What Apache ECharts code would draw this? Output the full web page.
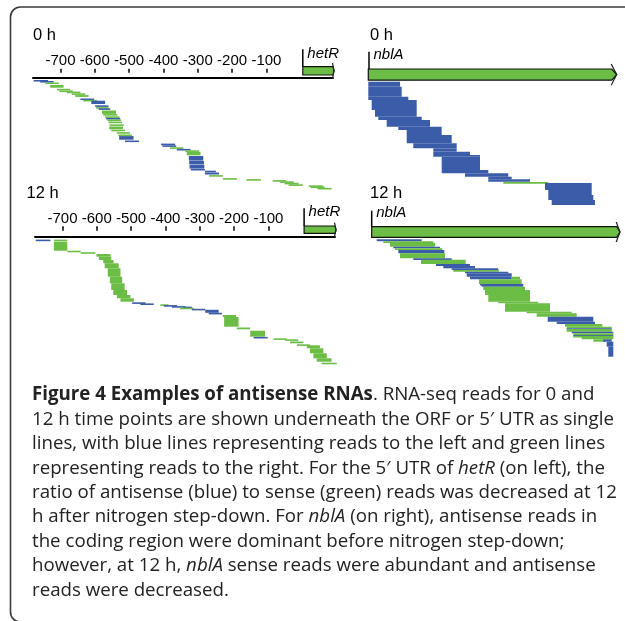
<!DOCTYPE html>
<html><head><meta charset="utf-8">
<script src="https://cdn.jsdelivr.net/npm/echarts@6/dist/echarts.min.js"></script>
<style>html,body{margin:0;padding:0;background:#fff}#c{width:625px;height:621px}</style>
</head><body><div id="c"></div>
<script>
// ---------- data ----------
const hetRTicks = [-700, -600, -500, -400, -300, -200, -100];
const timeLabels = ['0 h', '12 h'];
const geneNames = ['hetR', 'nblA'];
// reads: [start, end, row offset below gene line, row span, strand] (strand 1 = to the right / green, -1 = to the left / blue)
const hetR0h = [
  [-778,-736,2.7,1,-1],[-759,-720,3.7,1,-1],[-744,-705,5.2,1.5,1],[-730,-691,7.7,2.7,1],
  [-710,-672,11.5,1,1],[-703,-664,13.2,1,1],[-681,-642,14.3,1.3,1],[-667,-628,16,1,1],
  [-657,-618,17.8,1.8,1],[-642,-602,21.2,1,-1],[-633,-594,22.6,1,1],[-610,-570,23.4,3.3,-1],
  [-599,-560,28,1.5,-1],[-596,-560,29.8,1,1],[-589,-555,31,1,-1],[-579,-538,33.2,3.4,1],
  [-575,-534,36.8,1,1],[-570,-528,39,1,1],[-567,-526,40.6,1,-1],[-563,-524,42.2,1,1],
  [-560,-521,44.3,1.5,1],[-557,-516,47,1,1],[-558,-518,49.2,2.8,1],[-552,-512,52.4,1,1],
  [-536,-497,54.8,1.3,1],[-531,-492,57.2,1,1],[-529,-487,58.8,3.6,-1],[-512,-471,63.2,1,-1],
  [-407,-366,66.3,1.3,-1],[-403,-363,68,1,-1],[-381,-342,70,1,1],[-361,-321,71.6,1,-1],
  [-337,-296,73,1,1],[-332,-292,74.5,3.5,1],[-326,-284,78.7,4.6,-1],[-325,-282,83.6,3.3,-1],
  [-324,-281,87.3,4,-1],[-320,-279,91.6,1.5,-1],[-279,-247,93.4,1.5,-1],[-279,-238,95.2,2,-1],
  [-267,-227,97.8,1.4,1],[-227,-186,100.8,1,1],[-158,-116,101.8,1,1],[-82,-42,102.8,1,1],
  [-61,-20,104,1,1],[-47,-6,105.5,1,1],[-35,6,107,1,1],[23,64,108,1,1],
  [29,70,109.2,1,1],[49,90,110.6,1,1]
];
const hetR12h = [
  [-778,-735,3.3,1.2,-1],[-725,-686,3.3,0.8,1],[-725,-686,5.4,9,1],[-686,-647,14.4,1,1],
  [-647,-604,15.9,1.2,1],[-601,-560,17.7,2.7,1],[-594,-558,20.4,3.3,1],[-581,-551,23.7,3.3,1],
  [-577,-536,27,5,1],[-568,-531,32,8.4,1],[-562,-526,40.4,6.6,1],[-558,-519,47,6.7,1],
  [-552,-512,53.7,5,1],[-541,-502,58.7,3.3,1],[-531,-492,62,3.4,1],[-497,-458,66,1.2,-1],
  [-473,-434,67.1,1,-1],[-415,-391,68,0.8,1],[-405,-366,68.8,1,-1],[-381,-342,69.8,1,-1],
  [-347,-323,70.3,1,-1],[-357,-318,71.4,1,1],[-323,-284,72.5,1,-1],[-284,-245,73.5,3,-1],
  [-274,-235,76.5,1.2,-1],[-233,-194,78.7,2,1],[-229,-187,80.7,9.7,1],[-192,-153,91.2,1.8,1],
  [-153,-110,94.4,6,1],[-143,-102,100.6,0.9,-1],[-85,-47,102,1,1],[-51,-13,103,1.4,1],
  [-37,2,105.2,1.8,1],[-17,21,108,1,1],[12,50,109,3,1],[21,60,112,5,1],
  [31,70,117,5,1],[41,84,122,3.4,1],[55,99,126.4,1.6,1]
];
const nblA0h = [
  [0,31.7,1.2,5,-1],[0,33.4,6.2,10,-1],[0,40,16.2,3.3,-1],[3.4,48.4,19.5,10,-1],
  [6.7,48.4,29.5,6.7,-1],[10,53.4,36.2,3.3,-1],[18.4,61.7,39.5,6.7,-1],[30,73.4,46.2,3.3,-1],
  [38.4,73.4,49.5,5,-1],[38.4,83.4,54.5,8.3,-1],[45,88.4,62.8,5,-1],[65,88.4,67.8,3.4,-1],
  [65,101.7,71.2,3.3,-1],[65,111.7,74.5,1.7,-1],[73.4,111.7,76.2,13.3,-1],[73.4,120,89.5,3.3,-1],
  [96.7,140,92.8,3.4,-1],[120,143.4,96.2,2.6,-1],[120,161.7,98.8,2.4,-1],[135,180,101.6,0.8,1],
  [176.7,223.4,102.5,7,-1],[180,223.4,109.5,5,-1],[180,225,114.5,5,-1],[183.4,226.7,119.5,5,-1]
];
const nblA12h = [
  [5,50,2,2,-1],[11.6,61.6,4,1.4,1],[18.3,63.3,5.4,4,1],[21.6,68.3,9.4,1.6,-1],
  [23.3,70.6,11,1.7,1],[26.6,72.6,12.7,3.3,-1],[28.3,73.3,16,5,1],[41.6,80,21,1.5,-1],
  [49.3,94,22.5,4.2,1],[64.3,98.3,26.7,2,-1],[71.6,103.3,28.7,2.3,-1],[80,126.6,31,1.7,-1],
  [81.6,127.3,32.7,1.7,1],[93.3,136.6,34.4,1.6,-1],[95,140,36,3.4,-1],[98.3,140,39.4,2.6,-1],
  [140,148.3,39.4,2.6,1],[107.3,150,42,4.7,1],[108.3,151.6,46.7,1,-1],[110,151.6,47.7,1.7,-1],
  [111.6,153.3,49.4,3.3,1],[113.3,158.3,52.7,5,1],[116.6,158.3,57.7,6.7,1],[126.6,166.6,64.4,1.6,1],
  [133.3,178.3,66,8.4,1],[155,200,74.4,1.6,1],[165,205,76,3.4,1],[176,221.6,79.4,5,-1],
  [185,223.3,84.4,2.3,-1],[193.3,230.6,86.7,2.7,1],[195,240,89.4,1.6,1],[195,240,91,0.8,-1],
  [195,240,91.8,2.6,1],[200,241.6,94.4,1.6,-1],[201.6,241.6,96,1.7,1],[201.6,241.6,97.7,0.8,-1],
  [201.6,241.6,98.5,1,1],[210,241.6,99.4,2.6,1],[221.6,233.3,102,2.4,1],[231.6,240,102,2.4,-1],
  [235,241.6,104.4,5,-1],[236.6,241.6,109.4,10,-1]
];
// gene glyphs: [boxStart, boxEnd, boxTop, boxBottom, tipX, tssX, tssTop, labelY]
const hetRGene0h = [[6, 94, -10.6, -2.3, 97, 6, -28, -23.3]];
const hetRGene12h = [[4, 94, -10.3, -3, 97, 4, -28, -24.3]];
const nblAGene0h = [[0, 243.4, -11.5, -0.3, 248.4, 0.7, -28.8, -25.8]];
const nblAGene12h = [[0, 245, -10.6, 0, 248.3, 0, -26.6, -24.5]];
const captionLines = [
  '{b|Figure 4 Examples of antisense RNAs}. RNA-seq reads for 0 and',
  '12 h time points are shown underneath the ORF or 5\u2032 UTR as single',
  'lines, with blue lines representing reads to the left and green lines',
  'representing reads to the right. For the 5\u2032 UTR of {i|hetR} (on left), the',
  'ratio of antisense (blue) to sense (green) reads was decreased at 12',
  'h after nitrogen step-down. For {i|nblA} (on right), antisense reads in',
  'the coding region were dominant before nitrogen step-down;',
  'however, at 12 h, {i|nblA} sense reads were abundant and antisense',
  'reads were decreased.'
];

// ---------- styles / layout ----------
const BLUE = '#3b5ca8', GREEN = '#6bbd45';
const AX_FONT = 'Liberation Sans';
const CAP_FONT = 'Open Sans';
const CAP_SIZE = 18.7;

const grids = [
  {left: 33, top: 77.3, width: 300, height: 115},
  {left: 35, top: 236.3, width: 300, height: 130},
  {left: 368.3, top: 80.5, width: 248.4, height: 126},
  {left: 371.7, top: 237.3, width: 248.4, height: 122}
];

function readRender(p, api) {
  const a = api.coord([api.value(0), api.value(2)]);
  const b = api.coord([api.value(1), api.value(2) + api.value(3)]);
  const h = Math.max(b[1] - a[1], 1.6);
  return {type: 'rect', shape: {x: a[0], y: a[1], width: b[0] - a[0], height: h},
    style: {fill: api.value(4) > 0 ? GREEN : BLUE}};
}
function geneRender(name) {
  return function (p, api) {
    const a = api.coord([api.value(0), api.value(2)]);
    const b = api.coord([api.value(1), api.value(3)]);
    const t = api.coord([api.value(4), 0]);
    const k = api.coord([api.value(5), api.value(6)]);
    const ly = api.coord([0, api.value(7)])[1];
    const h = b[1] - a[1], mid = (a[1] + b[1]) / 2;
    return {type: 'group', children: [
      {type: 'polygon', shape: {points: [[a[0], a[1]], [b[0], a[1]], [t[0], mid], [b[0], b[1]], [a[0], b[1]]]},
        style: {fill: GREEN, stroke: '#111', lineWidth: 1.2}},
      {type: 'polyline', shape: {points: [[b[0] - 0.5, mid - h * 0.95], [t[0], mid], [b[0] - 0.5, mid + h * 0.95]]},
        style: {stroke: '#222', lineWidth: 1.2, fill: null}},
      {type: 'line', shape: {x1: k[0], y1: k[1], x2: k[0], y2: a[1]}, style: {stroke: '#000', lineWidth: 1.5}},
      {type: 'text', x: k[0] + 4.5, y: ly, style: {text: name, fontFamily: AX_FONT, fontStyle: 'italic',
        fontSize: 15, fill: '#000', verticalAlign: 'middle', align: 'left'}}
    ]};
  };
}

const xAxes = [];
const yAxes = [];
const hidden = {show: false};
// grid 0 : hetR 0 h
xAxes.push({gridIndex: 0, type: 'value', min: -780, max: 94, position: 'top',
  axisLine: {show: true, lineStyle: {color: '#000', width: 2}}, axisTick: hidden, axisLabel: hidden, splitLine: hidden});
xAxes.push({gridIndex: 0, type: 'value', min: -780, max: 94, position: 'top', offset: 4.6,
  axisLine: hidden, splitLine: hidden,
  axisTick: {show: true, customValues: hetRTicks, length: 4, lineStyle: {color: '#000', width: 1.5}},
  axisLabel: {show: true, customValues: hetRTicks, margin: 4.5, fontSize: 15, fontFamily: AX_FONT, color: '#000'}});
// grid 1 : hetR 12 h
xAxes.push({gridIndex: 1, type: 'value', min: -780, max: 94, position: 'top',
  axisLine: {show: true, lineStyle: {color: '#000', width: 2}}, axisTick: hidden, axisLabel: hidden, splitLine: hidden});
xAxes.push({gridIndex: 1, type: 'value', min: -780, max: 94, position: 'top', offset: 5.6,
  axisLine: hidden, splitLine: hidden,
  axisTick: {show: true, customValues: hetRTicks, length: 4.5, lineStyle: {color: '#000', width: 1.5}},
  axisLabel: {show: true, customValues: hetRTicks, margin: 4.5, fontSize: 15, fontFamily: AX_FONT, color: '#000'}});
// grids 2,3 : nblA
xAxes.push({gridIndex: 2, type: 'value', min: 0, max: 248.4, show: false});
xAxes.push({gridIndex: 3, type: 'value', min: 0, max: 248.4, show: false});
grids.forEach((g, i) => yAxes.push({gridIndex: i, type: 'value', min: 0, max: g.height, inverse: true, show: false}));

function rs(data, xi, yi) {
  return {type: 'custom', xAxisIndex: xi, yAxisIndex: yi, data: data, renderItem: readRender, silent: true, clip: false};
}
function gs(data, xi, yi, name) {
  return {type: 'custom', xAxisIndex: xi, yAxisIndex: yi, data: data, renderItem: geneRender(name), silent: true, clip: false, z: 3};
}

const txt = (x, y, s, size) => ({type: 'text', x: x, y: y, style: {text: s, fontFamily: AX_FONT, fontSize: size, fill: '#000', verticalAlign: 'middle'}});
const graphics = [
  {type: 'rect', shape: {x: 10.5, y: 7, width: 700, height: 615, r: 10}, style: {fill: 'none', stroke: '#3a3a3a', lineWidth: 1.6}, z: 10},
  txt(33, 35, timeLabels[0], 16.5), txt(370, 35.5, timeLabels[0], 16.5),
  txt(26.5, 193, timeLabels[1], 16.5), txt(370, 193, timeLabels[1], 16.5)
];
const capRich = {
  b: {fontFamily: CAP_FONT, fontSize: CAP_SIZE, fontWeight: 'bold', fill: '#222'},
  i: {fontFamily: CAP_FONT, fontSize: CAP_SIZE, fontStyle: 'italic', fill: '#222'}
};
captionLines.forEach((line, i) => {
  graphics.push({type: 'text', x: 32, y: 395 + i * 24.4, style: {text: line, rich: capRich,
    fontFamily: CAP_FONT, fontSize: CAP_SIZE, fill: '#222', verticalAlign: 'middle'}});
});

const chart = echarts.init(document.getElementById('c'));
chart.setOption({
  animation: false,
  backgroundColor: '#fff',
  grid: grids,
  xAxis: xAxes,
  yAxis: yAxes,
  series: [
    rs(hetR0h, 0, 0), gs(hetRGene0h, 0, 0, geneNames[0]),
    rs(hetR12h, 2, 1), gs(hetRGene12h, 2, 1, geneNames[0]),
    rs(nblA0h, 4, 2), gs(nblAGene0h, 4, 2, geneNames[1]),
    rs(nblA12h, 5, 3), gs(nblAGene12h, 5, 3, geneNames[1])
  ],
  graphic: graphics
});
</script></body></html>
